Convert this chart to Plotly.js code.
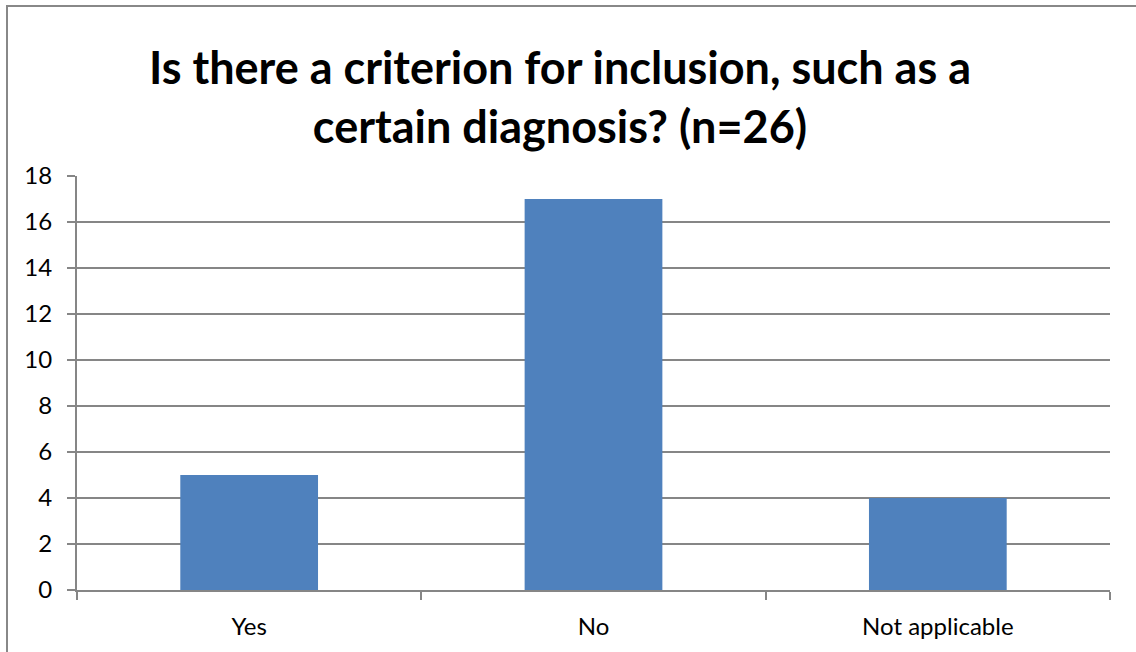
<!DOCTYPE html>
<html>
<head>
<meta charset="utf-8">
<script src="https://cdn.plot.ly/plotly-3.0.1.min.js"></script>
<style>
html,body{margin:0;padding:0;background:#fff;}
#chart{width:1136px;height:652px;}
</style>
</head>
<body>
<div id="chart"></div>
<script>
var categories = ["Yes", "No", "Not applicable"];
var counts = [5, 17, 4];
var yTicks = [0, 2, 4, 6, 8, 10, 12, 14, 16, 18];

var trace = {
  type: "bar",
  x: categories,
  y: counts,
  marker: {color: "#4f81bd"},
  width: 0.4,
  hoverinfo: "x+y"
};

var L = 77, R = 1110, T = 176, B = 590, W = 1136, H = 652;
var pw = R - L, ph = B - T;

var layout = {
  width: W, height: H,
  margin: {l: L, r: W - R, t: T, b: H - B, pad: 0},
  paper_bgcolor: "#ffffff",
  plot_bgcolor: "#ffffff",
  showlegend: false,
  font: {family: "Lato, 'Open Sans', sans-serif", color: "#000000", size: 24},
  title: {
    text: "<b>Is there a criterion for inclusion, such as a<br>certain diagnosis? (n=26)</b>",
    font: {family: "Lato, 'Open Sans', sans-serif", size: 45, color: "#000000"},
    x: 560 / W, xanchor: "center",
    y: 1 - 84 / H, yanchor: "middle", yref: "container"
  },
  xaxis: {
    type: "category",
    showline: true, linecolor: "#868686", linewidth: 2,
    ticks: "outside", tickson: "boundaries", ticklen: 8, tickcolor: "#868686", tickwidth: 2,
    showgrid: false, zeroline: false,
    ticklabelstandoff: 14,
    tickfont: {size: 24, color: "#000000"},
    fixedrange: true
  },
  yaxis: {
    range: [0, 18],
    tickvals: yTicks,
    ticktext: yTicks.map(String),
    showline: true, linecolor: "#868686", linewidth: 2,
    ticks: "outside", ticklen: 8, tickcolor: "#868686", tickwidth: 2,
    showgrid: true, gridcolor: "#868686", gridwidth: 1.5,
    zeroline: false,
    ticklabelstandoff: 10,
    tickfont: {size: 24, color: "#000000"},
    fixedrange: true
  },
  shapes: [{
    type: "rect", xref: "paper", yref: "paper",
    x0: (7 - L) / pw, x1: (W + 20 - L) / pw,
    y0: (B - (H + 20)) / ph, y1: (B - 6) / ph,
    line: {color: "#888888", width: 2},
    fillcolor: "rgba(0,0,0,0)",
    layer: "below"
  }]
};

Plotly.newPlot("chart", [trace], layout, {displayModeBar: false, staticPlot: true});
</script>
</body>
</html>
